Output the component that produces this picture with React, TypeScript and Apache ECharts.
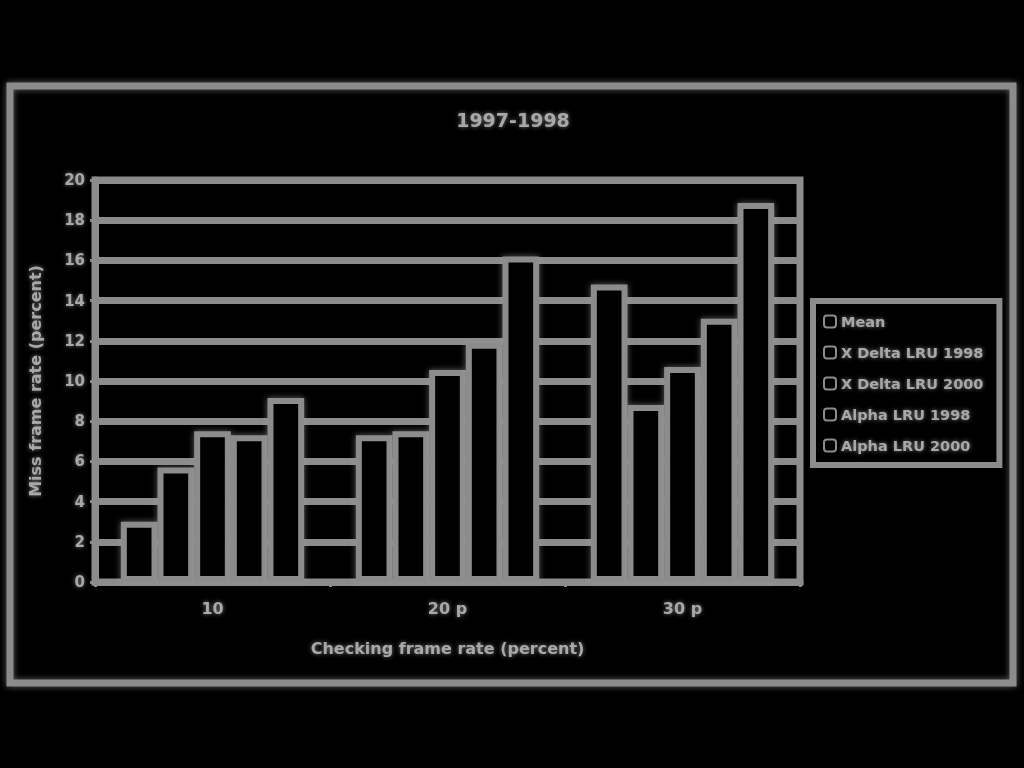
import React, { useEffect, useRef } from "react";
import * as echarts from "echarts";

const titleText = "1997-1998";
const categories = ["10", "20 p", "30 p"];
const seriesNames = ["Mean", "X Delta LRU 1998", "X Delta LRU 2000", "Alpha LRU 1998", "Alpha LRU 2000"];
const meanValues = [3.0, 7.3, 14.8];
const deltaLru1998 = [5.7, 7.5, 8.8];
const deltaLru2000 = [7.5, 10.55, 10.7];
const alphaLru1998 = [7.3, 11.9, 13.1];
const alphaLru2000 = [9.15, 16.2, 18.85];
const yTicks = { min: 0, max: 20, interval: 2 };
const xName = "Checking frame rate (percent)";
const yName = "Miss frame rate (percent)";

const GRAY = "#8c8c8c";
const TEXT = "#a8a8a8";

export default function App() {
  const ref = useRef<HTMLDivElement>(null);
  useEffect(() => {
    document.body.style.margin = "0";
    document.body.style.background = "#000";
    const chart = echarts.init(ref.current!, null, { renderer: "svg" });
    const values = [meanValues, deltaLru1998, deltaLru2000, alphaLru1998, alphaLru2000];
    const glow = { shadowBlur: 6, shadowColor: "rgba(160,160,160,0.6)" };
    const textGlow = { textShadowBlur: 4, textShadowColor: "rgba(170,170,170,0.7)" };
    chart.setOption({
      animation: false,
      backgroundColor: "#000",
      title: {
        text: titleText,
        left: 508,
        textAlign: "center",
        top: 105,
        textStyle: { color: TEXT, fontSize: 19, fontWeight: "bold", fontFamily: "DejaVu Sans", ...textGlow },
      },
      graphic: [
        {
          type: "rect",
          shape: { x: 10, y: 86, width: 1003, height: 597 },
          style: { fill: "none", stroke: GRAY, lineWidth: 7, ...glow },
          z: 0,
        },
      ],
      legend: {
        orient: "vertical",
        left: 813,
        top: 301,
        padding: [13, 16, 12, 10],
        itemGap: 16,
        itemWidth: 12,
        itemHeight: 12,
        borderColor: GRAY,
        borderWidth: 6,
        textStyle: { color: TEXT, fontSize: 14.5, fontWeight: "bold", fontFamily: "DejaVu Sans", ...textGlow },
        data: seriesNames,
      },
      grid: {
        left: 95,
        top: 180,
        right: 224,
        bottom: 186,
        show: true,
        borderColor: GRAY,
        borderWidth: 7,
        backgroundColor: "transparent",
      },
      xAxis: {
        type: "category",
        data: categories,
        name: xName,
        nameLocation: "middle",
        nameGap: 58,
        nameTextStyle: { color: TEXT, fontSize: 16, fontWeight: "bold", fontFamily: "DejaVu Sans", ...textGlow },
        axisLine: { lineStyle: { color: GRAY, width: 7 } },
        axisTick: { show: true, length: 5, lineStyle: { color: GRAY, width: 3 } },
        axisLabel: { color: TEXT, fontSize: 16, fontWeight: "bold", margin: 18, fontFamily: "DejaVu Sans", ...textGlow },
      },
      yAxis: {
        type: "value",
        min: yTicks.min,
        max: yTicks.max,
        interval: yTicks.interval,
        name: yName,
        nameLocation: "middle",
        nameGap: 52,
        nameTextStyle: { color: TEXT, fontSize: 16, fontWeight: "bold", fontFamily: "DejaVu Sans", ...textGlow },
        axisLine: { show: true, lineStyle: { color: GRAY, width: 7 } },
        axisTick: { show: true, length: 5, lineStyle: { color: GRAY, width: 3 } },
        axisLabel: { color: TEXT, fontSize: 15, fontWeight: "bold", margin: 10, fontFamily: "DejaVu Sans", ...textGlow },
        splitLine: { show: true, lineStyle: { color: GRAY, width: 7 } },
      },
      series: seriesNames.map((name, i) => ({
        name,
        type: "bar",
        data: values[i],
        barGap: "0%",
        barCategoryGap: "22%",
        itemStyle: { color: "#000", borderColor: GRAY, borderWidth: 6, ...glow },
      })),
    });
    return () => chart.dispose();
  }, []);
  return <div ref={ref} style={{ width: 1024, height: 768, background: "#000" }} />;
}
